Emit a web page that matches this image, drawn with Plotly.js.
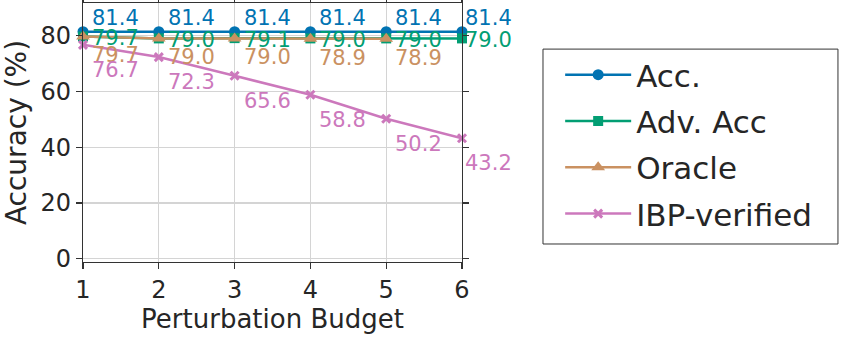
<!DOCTYPE html>
<html>
<head>
<meta charset="utf-8">
<script src="https://cdn.plot.ly/plotly-3.0.1.min.js"></script>
<style>
  body { margin: 0; background: #fff; }
  #chart { width: 847px; height: 337px; }
</style>
</head>
<body>
<div id="chart"></div>
<script>
// perturbation budgets on the x axis
const budgets = [1, 2, 3, 4, 5, 6];

const accVals = [81.4, 81.4, 81.4, 81.4, 81.4, 81.4];
const advVals = [79.7, 79.0, 79.1, 79.0, 79.0, 79.0];
const oracleVals = [79.7, 79.0, 79.0, 78.9, 78.9];
const ibpVals = [76.7, 72.3, 65.6, 58.8, 50.2, 43.2];

const seriesNames = ['Acc.', 'Adv. Acc', 'Oracle', 'IBP-verified'];
const yTicks = [0, 20, 40, 60, 80];

const font = 'DejaVu Sans, sans-serif';
const ink = '#262626';

const series = [
    {y: accVals, color: '#0173b2', symbol: 'circle', size: 11, dy: 14},
    {y: advVals, color: '#029e73', symbol: 'square', size: 10, dy: -2},
    {y: oracleVals, color: '#ca9161', symbol: 'triangle-up', size: 12, dy: -19},
    {y: ibpVals, color: '#cc78bc', symbol: 'x-thin-open', size: 8, dy: -25}
];

let data = [];
let annotations = [];
series.forEach((s, k) => {
    let xs = budgets.slice(0, s.y.length);
    data.push({
        x: xs,
        y: s.y,
        name: seriesNames[k],
        legendgroup: 'g' + k,
        mode: 'lines+markers',
        line: {color: s.color, width: 2.5},
        marker: {color: s.color, symbol: s.symbol, size: s.size,
                 line: {color: s.color, width: s.symbol == 'x-thin-open' ? 3 : 0}},
        cliponaxis: false
    });
    for (let i = 0; i < xs.length; i++) {
        annotations.push({
            x: xs[i], y: s.y[i], xref: 'x', yref: 'y',
            text: s.y[i].toFixed(1),
            showarrow: false,
            xanchor: 'left', yanchor: 'middle',
            xshift: i == budgets.length - 1 ? 1 : 7,
            yshift: s.dy,
            font: {family: font, size: 21, color: s.color}
        });
    }
});

const axisCommon = {
    showline: true, linecolor: '#333', linewidth: 1.2,
    mirror: 'ticks', ticks: 'outside', ticklen: 6, tickwidth: 1.2, tickcolor: '#333',
    showgrid: true, gridcolor: '#d4d4d4', gridwidth: 1.2,
    zeroline: false,
    tickfont: {family: font, size: 24, color: ink}
};

const layout = {
    width: 847, height: 337,
    margin: {l: 83, r: 385, t: 3, b: 75},
    paper_bgcolor: '#fff', plot_bgcolor: '#fff',
    showlegend: true,
    xaxis: Object.assign({}, axisCommon, {
        range: [1, 6], tickvals: budgets,
        title: {text: 'Perturbation Budget', font: {family: font, size: 26, color: ink}, standoff: 4}
    }),
    yaxis: Object.assign({}, axisCommon, {
        range: [-1.2, 91.7], tickvals: yTicks,
        title: {text: 'Accuracy (%)', font: {family: font, size: 28, color: ink}, standoff: 5}
    }),
    legend: {
        x: 1.259, y: 0.826, xanchor: 'left', yanchor: 'top',
        borderwidth: 0, bgcolor: 'rgba(0,0,0,0)',
        font: {family: font, size: 31, color: ink},
        traceorder: 'grouped', tracegroupgap: 3,
        itemwidth: 66
    },
    // legend frame, wider than plotly's own box
    shapes: [{
        type: 'rect', xref: 'paper', yref: 'paper',
        x0: 1.2137, x1: 1.992, y0: 0.0695, y1: 0.822,
        line: {color: '#333', width: 1}, fillcolor: 'rgba(0,0,0,0)'
    }],
    annotations: annotations
};

Plotly.newPlot('chart', data, layout, {staticPlot: true});
</script>
</body>
</html>
